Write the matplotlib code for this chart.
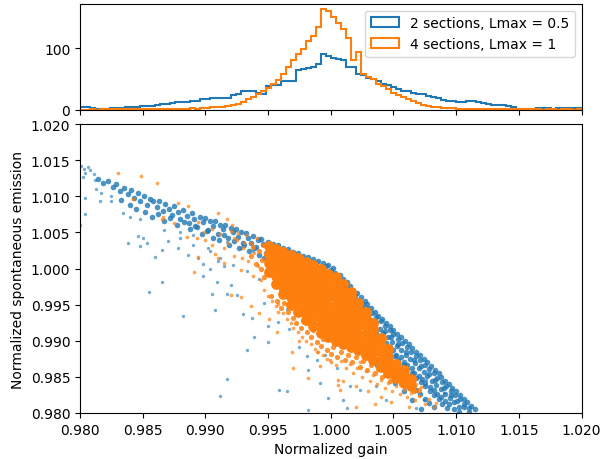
import numpy as np
import matplotlib.pyplot as plt

# histogram bins and counts
bin_edges = np.linspace(0.98, 1.02, 101)
counts_2sec = [5, 4, 3, 2, 1, 2, 3, 3, 3, 4,
               4, 5, 6, 7, 7, 8, 10, 10, 11, 12,
               12, 13, 15, 15, 17, 18, 19, 19, 19, 20,
               24, 25, 30, 31, 30, 27, 26, 39, 40, 40,
               46, 47, 47, 64, 66, 68, 70, 74, 91, 87,
               84, 82, 80, 70, 69, 58, 57, 52, 50, 46,
               42, 40, 37, 33, 31, 30, 27, 26, 25, 22,
               21, 19, 16, 15, 14, 12, 12, 15, 15, 13,
               11, 10, 8, 8, 8, 7, 4, 2, 2, 2,
               2, 3, 3, 3, 2, 3, 3, 3, 3, 3]
counts_4sec = [0, 0, 1, 0, 1, 1, 1, 1, 2, 1,
               2, 1, 2, 2, 1, 2, 2, 2, 1, 2,
               2, 2, 3, 2, 3, 3, 4, 4, 5, 6,
               8, 10, 13, 17, 21, 25, 30, 36, 42, 48,
               58, 69, 80, 91, 99, 112, 120, 134, 164, 161,
               150, 141, 131, 116, 80, 93, 58, 54, 50, 42,
               38, 34, 28, 24, 21, 17, 14, 11, 8, 6,
               5, 4, 3, 3, 3, 2, 2, 2, 1, 2,
               2, 1, 2, 1, 1, 1, 2, 1, 2, 1,
               1, 1, 0, 1, 1, 0, 1, 1, 0, 1]

# 2 sections: points along the upper edge (gain, spontaneous emission)
blue_band = [
    (0.9814, 1.0124), (0.9818, 1.0118), (0.9822, 1.0121), (0.9826, 1.0113), (0.9829, 1.0117),
    (0.9832, 1.0108), (0.9835, 1.0112), (0.9838, 1.0103), (0.9841, 1.0109), (0.9843, 1.0098),
    (0.9846, 1.0105), (0.9848, 1.0094), (0.9851, 1.0101), (0.9853, 1.0088), (0.9856, 1.0097),
    (0.9858, 1.0093), (0.9861, 1.0085), (0.9863, 1.0094), (0.9866, 1.0080), (0.9868, 1.0089),
    (0.9871, 1.0083), (0.9873, 1.0074), (0.9875, 1.0086), (0.9878, 1.0078), (0.9880, 1.0068),
    (0.9882, 1.0081), (0.9885, 1.0073), (0.9887, 1.0063), (0.9889, 1.0077), (0.9891, 1.0069),
    (0.9893, 1.0058), (0.9896, 1.0072), (0.9898, 1.0064), (0.9900, 1.0070), (0.9902, 1.0054),
    (0.9904, 1.0066), (0.9906, 1.0059), (0.9908, 1.0066), (0.9910, 1.0048), (0.9912, 1.0061),
    (0.9914, 1.0055), (0.9916, 1.0060), (0.9918, 1.0042), (0.9920, 1.0056), (0.9922, 1.0050),
    (0.9924, 1.0055), (0.9926, 1.0044), (0.9928, 1.0051), (0.9930, 1.0036), (0.9932, 1.0049),
    (0.9934, 1.0043), (0.9936, 1.0035), (0.9938, 1.0045), (0.9940, 1.0030), (0.9942, 1.0040),
    (0.9944, 1.0041), (0.9946, 1.0034), (0.9948, 1.0022), (0.9950, 1.0037), (0.9952, 1.0030),
    (0.9954, 1.0034), (0.9956, 1.0026), (0.9958, 1.0032), (0.9960, 1.0016), (0.9962, 1.0029),
    (0.9964, 1.0022), (0.9966, 1.0027), (0.9968, 1.0012), (0.9970, 1.0023), (0.9972, 1.0017),
    (0.9974, 1.0021), (0.9976, 1.0008), (0.9978, 1.0018), (0.9980, 1.0012), (0.9982, 1.0016),
    (0.9984, 1.0004), (0.9986, 1.0013), (0.9988, 1.0008), (0.9990, 1.0011), (0.9992, 1.0000),
    (0.9994, 1.0008), (0.9996, 1.0003), (0.9998, 1.0005), (1.0000, 0.9998), (1.0002, 1.0001),
    (0.9833, 1.0095), (0.9840, 1.0088), (0.9845, 1.0082), (0.9852, 1.0079), (0.9857, 1.0071),
    (0.9862, 1.0076), (0.9867, 1.0066), (0.9872, 1.0070), (0.9877, 1.0060), (0.9883, 1.0064),
    (0.9888, 1.0055), (0.9892, 1.0059), (0.9897, 1.0048), (0.9901, 1.0052), (0.9906, 1.0043),
    (0.9911, 1.0040), (0.9915, 1.0046), (0.9919, 1.0033), (0.9923, 1.0038), (0.9927, 1.0029),
    (0.9931, 1.0033), (0.9935, 1.0024), (0.9939, 1.0028), (0.9943, 1.0019), (0.9947, 1.0015),
    (0.9951, 1.0020), (0.9955, 1.0010), (0.9959, 1.0014), (0.9963, 1.0005), (0.9967, 1.0008),
    (1.0007, 0.9991), (1.0001, 0.9987), (1.0010, 0.9985), (1.0003, 0.9982), (1.0013, 0.9981),
    (1.0006, 0.9977), (1.0015, 0.9976), (1.0005, 0.9972), (1.0018, 0.9970), (1.0009, 0.9968),
    (1.0021, 0.9966), (1.0011, 0.9962), (1.0024, 0.9960), (1.0012, 0.9957), (1.0027, 0.9955),
    (1.0016, 0.9953), (1.0029, 0.9951), (1.0017, 0.9947), (1.0032, 0.9945), (1.0020, 0.9942),
    (1.0035, 0.9940), (1.0022, 0.9937), (1.0038, 0.9935), (1.0026, 0.9932), (1.0041, 0.9930),
    (1.0027, 0.9928), (1.0044, 0.9925), (1.0031, 0.9921), (1.0047, 0.9920), (1.0032, 0.9917),
    (1.0050, 0.9915), (1.0036, 0.9911), (1.0053, 0.9910), (1.0039, 0.9907), (1.0056, 0.9905),
    (1.0040, 0.9902), (1.0059, 0.9900), (1.0044, 0.9897), (1.0062, 0.9895), (1.0047, 0.9891),
    (1.0065, 0.9890), (1.0050, 0.9887), (1.0068, 0.9885), (1.0052, 0.9881), (1.0071, 0.9880),
    (1.0056, 0.9877), (1.0074, 0.9875), (1.0058, 0.9871), (1.0077, 0.9870), (1.0061, 0.9866),
    (1.0080, 0.9865), (1.0065, 0.9862), (1.0083, 0.9860), (1.0066, 0.9856), (1.0086, 0.9855),
    (1.0070, 0.9851), (1.0088, 0.9850), (1.0073, 0.9847), (1.0091, 0.9845), (1.0075, 0.9842),
    (1.0094, 0.9840), (1.0079, 0.9836), (1.0097, 0.9835), (1.0082, 0.9832), (1.0100, 0.9830),
    (1.0085, 0.9826), (1.0103, 0.9825), (1.0088, 0.9822), (1.0106, 0.9820), (1.0091, 0.9816),
    (1.0109, 0.9815), (1.0094, 0.9812), (1.0112, 0.9810), (1.0098, 0.9806), (1.0115, 0.9805),
    (1.0102, 0.9802), (1.0003, 0.9994), (1.0009, 0.9979), (1.0014, 0.9967), (1.0019, 0.9958),
    (1.0025, 0.9946), (1.0030, 0.9936), (1.0036, 0.9926), (1.0043, 0.9914), (1.0048, 0.9905),
    (1.0054, 0.9895), (1.0060, 0.9884), (1.0066, 0.9874), (1.0072, 0.9865), (1.0078, 0.9854),
    (1.0083, 0.9846), (1.0090, 0.9835), (1.0096, 0.9825), (1.0101, 0.9816), (1.0106, 0.9808),
    (1.0110, 0.9801),
    (1.0005, 0.9987), (1.0008, 0.9981), (1.0012, 0.9975), (1.0015, 0.9969), (1.0019, 0.9963),
    (1.0022, 0.9957), (1.0026, 0.9951), (1.0029, 0.9945), (1.0033, 0.9939), (1.0036, 0.9933),
    (1.0040, 0.9927), (1.0043, 0.9921), (1.0047, 0.9915), (1.0050, 0.9909), (1.0054, 0.9903),
    (1.0057, 0.9897), (1.0061, 0.9891), (1.0064, 0.9885), (1.0068, 0.9879), (1.0071, 0.9873),
    (1.0075, 0.9867), (1.0078, 0.9861), (1.0082, 0.9855), (1.0085, 0.9849), (1.0089, 0.9843),
    (1.0092, 0.9837), (1.0096, 0.9831), (1.0099, 0.9825), (1.0103, 0.9819), (1.0106, 0.9813),
    (1.0110, 0.9807),
    (0.9997, 0.9989), (1.0000, 0.9983), (1.0004, 0.9977), (1.0007, 0.9971), (1.0011, 0.9965),
    (1.0014, 0.9959), (1.0018, 0.9953), (1.0021, 0.9947), (1.0025, 0.9941), (1.0028, 0.9935),
    (1.0032, 0.9929), (1.0035, 0.9923), (1.0039, 0.9917), (1.0042, 0.9911), (1.0046, 0.9905),
    (1.0049, 0.9899), (1.0053, 0.9893), (1.0056, 0.9887), (1.0060, 0.9881), (1.0063, 0.9875),
    (1.0067, 0.9869), (1.0070, 0.9863), (1.0074, 0.9857), (1.0077, 0.9851), (1.0081, 0.9845),
    (1.0084, 0.9839), (1.0088, 0.9833), (1.0091, 0.9827), (1.0095, 0.9821), (1.0098, 0.9815),
    (1.0102, 0.9809),
    (1.0026, 0.9921), (1.0030, 0.9915), (1.0033, 0.9909), (1.0037, 0.9903), (1.0040, 0.9897),
    (1.0044, 0.9891), (1.0047, 0.9885), (1.0051, 0.9879), (1.0054, 0.9873), (1.0058, 0.9867),
    (1.0061, 0.9861), (1.0065, 0.9855), (1.0068, 0.9849), (1.0072, 0.9843), (1.0075, 0.9837),
    (1.0079, 0.9831), (1.0082, 0.9825), (1.0086, 0.9819), (1.0089, 0.9813), (1.0093, 0.9807),
    (1.0047, 0.9868), (1.0037, 0.9866), (1.0050, 0.9862), (1.0054, 0.9856), (1.0044, 0.9854),
    (1.0057, 0.9850), (1.0061, 0.9844), (1.0051, 0.9842), (1.0064, 0.9838), (1.0068, 0.9832),
    (1.0058, 0.9830), (1.0071, 0.9826), (1.0075, 0.9820), (1.0065, 0.9818), (1.0078, 0.9814),
    (1.0082, 0.9808), (1.0072, 0.9806),
]

# 2 sections: scattered points
blue_sparse = [
    (0.9801, 1.0142), (0.9803, 1.0138), (0.9806, 1.0140), (0.9804, 1.0133), (0.9808, 1.0136),
    (0.9802, 1.0127), (0.9811, 1.0131), (0.9812, 1.0122), (0.9804, 1.0098), (0.9804, 1.0075),
    (0.9800, 1.0061), (0.9816, 1.0094), (0.9825, 1.0094), (0.9834, 1.0077), (0.9838, 1.0035),
    (0.9848, 1.0031), (0.9850, 1.0042), (0.9813, 1.0110), (0.9817, 1.0105), (0.9825, 1.0100),
    (0.9846, 1.0045), (0.9853, 1.0036), (0.9848, 1.0068), (0.9840, 1.0072), (0.9860, 1.0016),
    (0.9865, 1.0026), (0.9867, 1.0054), (0.9870, 1.0038), (0.9878, 1.0028), (0.9880, 1.0042),
    (0.9886, 1.0019), (0.9890, 1.0033), (0.9894, 1.0014), (0.9898, 1.0007), (0.9902, 1.0028),
    (0.9904, 1.0000), (0.9910, 1.0010), (0.9915, 1.0003), (0.9890, 1.0047), (0.9904, 1.0024),
    (0.9912, 1.0014), (0.9922, 1.0005), (0.9933, 0.9996), (0.9943, 0.9986), (0.9898, 0.9990),
    (0.9909, 0.9981), (0.9920, 0.9977), (0.9938, 1.0024), (0.9949, 1.0009), (0.9959, 0.9991),
    (0.9917, 1.0037), (0.9928, 1.0028), (0.9880, 1.0050), (0.9943, 1.0042), (0.9970, 1.0005),
    (0.9975, 0.9981), (0.9905, 0.9965), (0.9908, 0.9943), (0.9930, 0.9937), (0.9937, 0.9932),
    (0.9950, 0.9920), (0.9939, 0.9905), (0.9950, 0.9898), (0.9933, 0.9887), (0.9917, 0.9847),
    (0.9912, 0.9823), (0.9959, 0.9832), (0.9965, 0.9831), (0.9982, 0.9859), (0.9982, 0.9804),
    (0.9998, 0.9821), (1.0013, 0.9807), (0.9989, 0.9874), (0.9967, 0.9916), (0.9958, 0.9926),
    (0.9975, 0.9891), (1.0005, 0.9863), (1.0015, 0.9837), (0.9995, 0.9881), (0.9917, 0.9965),
    (0.9925, 0.9963), (0.9947, 0.9953), (0.9965, 0.9944), (0.9855, 0.9967), (0.9865, 0.9981),
    (0.9882, 0.9934), (0.9981, 0.9879), (0.9991, 0.9842), (1.0010, 0.9818), (1.0023, 0.9832),
    (1.0036, 0.9837), (1.0044, 0.9818), (1.0068, 0.9807), (1.0074, 0.9818), (1.0050, 0.9846),
    (1.0060, 0.9860), (1.0076, 0.9846), (1.0090, 0.9828), (1.0039, 0.9874),
]

# 4 sections: dense core, one column of emission values per gain value
orange_core_gain = [0.9951, 0.9956, 0.9962, 0.9968, 0.9974, 0.9980, 0.9986,
                    0.9992, 0.9998, 1.0004, 1.0010, 1.0016, 1.0022, 1.0028, 1.0034,
                    1.0040, 1.0046, 1.0052, 1.0058, 1.0064]
orange_core_emis = [
    [0.9995, 1.0008, 1.0020, 1.0031],
    [0.9978, 0.9990, 1.0000, 1.0010, 1.0020, 1.0027],
    [0.9965, 0.9975, 0.9986, 0.9995, 1.0005, 1.0015, 1.0023],
    [0.9950, 0.9960, 0.9970, 0.9980, 0.9990, 1.0000, 1.0010, 1.0019],
    [0.9940, 0.9951, 0.9962, 0.9973, 0.9984, 0.9995, 1.0005, 1.0014],
    [0.9929, 0.9939, 0.9949, 0.9959, 0.9969, 0.9979, 0.9989, 0.9999, 1.0009],
    [0.9920, 0.9931, 0.9942, 0.9953, 0.9964, 0.9975, 0.9986, 0.9996, 1.0005],
    [0.9911, 0.9921, 0.9931, 0.9941, 0.9951, 0.9961, 0.9971, 0.9981, 0.9991, 1.0000],
    [0.9905, 0.9916, 0.9927, 0.9938, 0.9949, 0.9960, 0.9971, 0.9982, 0.9993],
    [0.9900, 0.9910, 0.9920, 0.9930, 0.9940, 0.9950, 0.9960, 0.9970, 0.9980, 0.9988],
    [0.9896, 0.9907, 0.9918, 0.9929, 0.9940, 0.9951, 0.9962, 0.9972, 0.9978],
    [0.9892, 0.9902, 0.9912, 0.9922, 0.9932, 0.9942, 0.9952, 0.9962, 0.9967],
    [0.9887, 0.9898, 0.9909, 0.9920, 0.9931, 0.9942, 0.9952],
    [0.9880, 0.9890, 0.9900, 0.9910, 0.9920, 0.9930, 0.9940],
    [0.9873, 0.9884, 0.9895, 0.9906, 0.9916, 0.9924],
    [0.9864, 0.9874, 0.9884, 0.9894, 0.9904],
    [0.9856, 0.9867, 0.9878, 0.9888],
    [0.9848, 0.9858, 0.9868],
    [0.9842, 0.9852, 0.9860],
    [0.9838, 0.9847],
]

# 4 sections: medium density points round the core
orange_mid = [
    (0.9944, 1.0000), (0.9945, 1.0012), (0.9943, 1.0024), (0.9946, 1.0033), (0.9947, 0.9989),
    (0.9940, 1.0006), (0.9938, 1.0030), (0.9936, 1.0018), (0.9948, 1.0021),
    (0.9952, 0.9962), (0.9957, 0.9955), (0.9960, 0.9946), (0.9963, 0.9952), (0.9966, 0.9940),
    (0.9970, 0.9932), (0.9972, 0.9925), (0.9976, 0.9918), (0.9978, 0.9928), (0.9981, 0.9912),
    (0.9984, 0.9905), (0.9986, 0.9915), (0.9989, 0.9898), (0.9992, 0.9893), (0.9994, 0.9902),
    (0.9997, 0.9887), (1.0000, 0.9882), (1.0002, 0.9892), (1.0005, 0.9878), (1.0008, 0.9885),
    (1.0011, 0.9874), (1.0014, 0.9880), (1.0017, 0.9870), (1.0020, 0.9877), (1.0023, 0.9864),
    (1.0026, 0.9872), (1.0029, 0.9860), (1.0032, 0.9866), (1.0035, 0.9856), (1.0038, 0.9861),
    (1.0041, 0.9850), (1.0044, 0.9856), (1.0047, 0.9845), (1.0053, 0.9850), (1.0056, 0.9840),
    (1.0060, 0.9838), (1.0066, 0.9830), (1.0070, 0.9832),
]

# 4 sections: scattered points
orange_sparse = [
    (0.9830, 1.0133), (0.9849, 1.0128), (0.9861, 1.0119), (0.9842, 1.0096), (0.9866, 1.0072),
    (0.9878, 1.0091), (0.9886, 1.0086), (0.9885, 1.0044), (0.9894, 1.0065), (0.9893, 1.0042),
    (0.9910, 1.0077), (0.9917, 1.0068), (0.9921, 1.0061), (0.9926, 1.0049), (0.9923, 1.0042),
    (0.9931, 1.0035), (0.9915, 1.0028), (0.9905, 1.0033), (0.9894, 1.0016), (0.9910, 1.0014),
    (0.9929, 1.0014), (0.9865, 1.0068), (0.9875, 1.0063), (0.9899, 1.0051), (0.9891, 0.9995),
    (0.9936, 0.9948), (0.9943, 0.9939), (0.9957, 0.9912), (0.9969, 0.9885), (0.9970, 0.9862),
    (0.9982, 0.9849), (1.0006, 0.9846), (1.0006, 0.9839), (1.0020, 0.9809), (0.9975, 0.9900),
    (0.9989, 0.9884), (0.9999, 0.9874), (0.9951, 0.9930), (0.9928, 0.9960), (0.9920, 0.9963),
    (0.9958, 0.9951), (0.9900, 1.0040), (0.9905, 1.0055), (0.9908, 1.0020), (0.9912, 1.0048),
    (0.9915, 1.0008), (0.9918, 1.0035), (0.9920, 1.0052), (0.9923, 1.0018), (0.9925, 1.0040),
    (0.9928, 0.9998), (0.9930, 1.0028), (0.9932, 1.0046), (0.9934, 1.0010), (0.9936, 1.0036),
    (0.9938, 0.9990), (0.9939, 1.0022), (0.9941, 1.0042), (0.9942, 1.0003), (0.9944, 0.9984),
    (0.9947, 0.9970), (0.9948, 0.9992), (0.9950, 0.9962), (0.9953, 0.9955), (0.9956, 0.9948),
    (0.9958, 0.9940), (0.9962, 0.9938), (0.9965, 0.9930), (0.9968, 0.9925), (0.9970, 0.9918),
    (0.9974, 0.9912), (0.9977, 0.9905), (0.9980, 0.9900), (0.9984, 0.9895), (0.9987, 0.9889),
    (0.9990, 0.9884), (0.9994, 0.9880), (0.9997, 0.9875), (1.0000, 0.9870), (1.0004, 0.9866),
    (1.0008, 0.9872), (1.0012, 0.9862), (1.0015, 0.9868), (1.0018, 0.9856), (1.0021, 0.9862),
    (1.0025, 0.9850), (1.0028, 0.9858), (1.0031, 0.9845), (1.0034, 0.9852), (1.0037, 0.9840),
    (1.0040, 0.9846), (1.0043, 0.9835), (1.0046, 0.9842), (1.0049, 0.9830), (1.0052, 0.9837),
    (1.0055, 0.9826), (1.0058, 0.9832), (1.0061, 0.9822), (1.0064, 0.9828), (1.0067, 0.9818),
    (1.0070, 0.9824), (1.0072, 0.9836), (1.0068, 0.9840), (1.0062, 0.9852), (1.0058, 0.9848),
    (1.0050, 0.9872), (1.0030, 0.9830), (1.0020, 0.9838), (1.0010, 0.9845), (1.0040, 0.9822),
    (1.0048, 0.9815), (1.0035, 0.9812), (1.0062, 0.9808), (1.0075, 0.9812), (1.0078, 0.9820),
    (1.0082, 0.9809), (1.0023, 0.9870), (0.9991, 0.9865), (1.0084, 0.9814), (1.0007, 0.9832),
]

labels = ['2 sections, Lmax = 0.5', '4 sections, Lmax = 1']

fig = plt.figure(figsize=(6.02, 4.6), dpi=100)
ax_h = fig.add_axes([0.133, 0.759, 0.833, 0.231])
ax_s = fig.add_axes([0.133, 0.100, 0.833, 0.628], sharex=ax_h)

centers = (bin_edges[:-1] + bin_edges[1:]) / 2
ax_h.hist(centers, bins=bin_edges, weights=counts_2sec, histtype='step',
          lw=1.5, color='C0', label=labels[0])
ax_h.hist(centers, bins=bin_edges, weights=counts_4sec, histtype='step',
          lw=1.5, color='C1', label=labels[1])
ax_h.set_yticks([0, 100])
ax_h.tick_params(labelbottom=False)
ax_h.legend(loc='upper right')

bs_g, bs_e = np.array(blue_sparse).T
bb_g, bb_e = np.array(blue_band).T
os_g, os_e = np.array(orange_sparse).T
om_g, om_e = np.array(orange_mid).T
oc_g = np.concatenate([[g] * len(col) for g, col in zip(orange_core_gain, orange_core_emis)])
oc_e = np.concatenate(orange_core_emis)

ax_s.scatter(bs_g, bs_e, s=6, color='C0', alpha=0.6, linewidths=0)
ax_s.scatter(bb_g, bb_e, s=16, color='C0', alpha=0.8, linewidths=0)
ax_s.scatter(os_g, os_e, s=7, color='C1', alpha=0.7, linewidths=0)
ax_s.scatter(om_g, om_e, s=14, color='C1', alpha=0.85, linewidths=0)
ax_s.scatter(oc_g, oc_e, s=60, color='C1', alpha=1.0, linewidths=0)

ax_s.set_xlim(0.98, 1.02)
ax_s.set_ylim(0.98, 1.02)
ax_s.set_xlabel('Normalized gain')
ax_s.set_ylabel('Normalized spontaneous emission')

fig.savefig('out.png')
